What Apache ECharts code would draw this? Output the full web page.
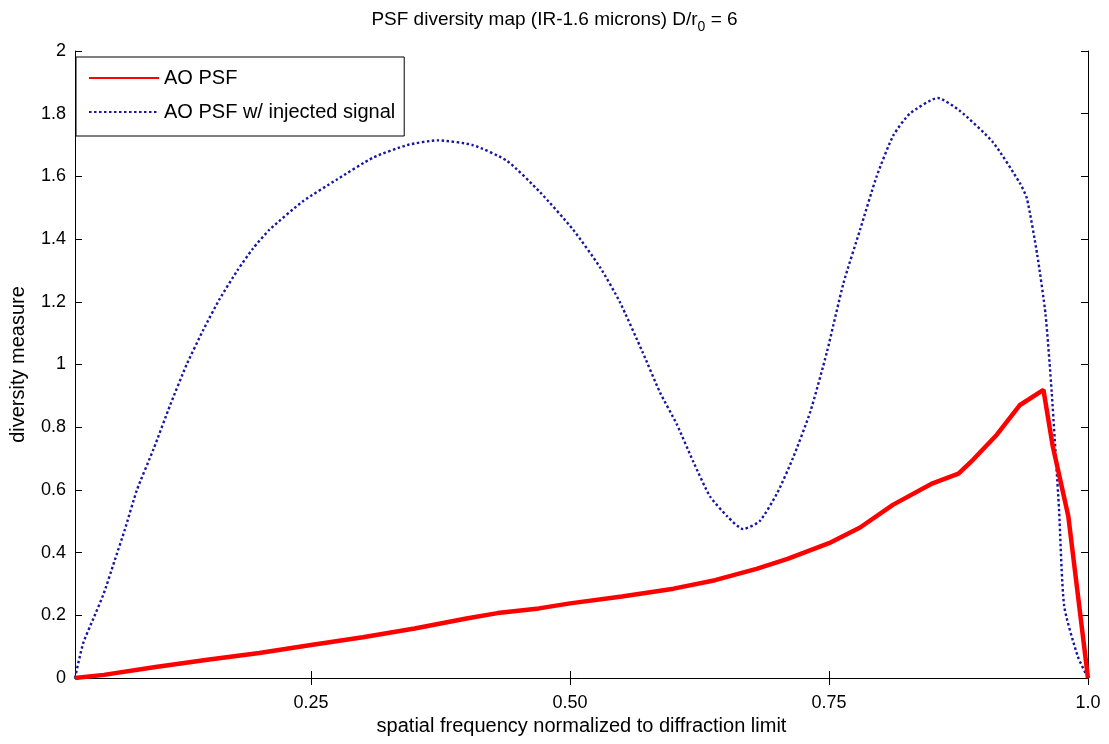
<!DOCTYPE html>
<html>
<head>
    <meta charset="utf-8">
    <title>PSF diversity map</title>
    <script src="https://cdn.jsdelivr.net/npm/echarts@6/dist/echarts.min.js"></script>
    <style>
        html, body { margin: 0; padding: 0; background: #fff; }
        #main { width: 1109px; height: 744px; }
    </style>
</head>
<body>
<div id="main"></div>
<script type="text/javascript">
    // values
    var aoFreq = [0.0222, 0.05, 0.1, 0.15, 0.2, 0.25, 0.3, 0.35, 0.4, 0.43, 0.47, 0.5, 0.55, 0.6, 0.64,
                  0.68, 0.71, 0.75, 0.78, 0.812, 0.85, 0.875, 0.889, 0.912, 0.934, 0.957, 0.966, 0.981, 1.0];
    var aoVals = [0, 0.01, 0.035, 0.058, 0.08, 0.105, 0.13, 0.158, 0.19, 0.207, 0.222, 0.238, 0.26, 0.285, 0.312,
                  0.348, 0.38, 0.43, 0.48, 0.553, 0.621, 0.652, 0.696, 0.776, 0.87, 0.919, 0.739, 0.516, 0];

    var injFreq = [0.0222, 0.03, 0.04, 0.05, 0.06, 0.07, 0.082, 0.098, 0.114, 0.13, 0.146, 0.162, 0.179, 0.194,
                   0.21, 0.242, 0.275, 0.31, 0.343, 0.372, 0.406, 0.439, 0.471, 0.503, 0.529, 0.548, 0.57, 0.587,
                   0.603, 0.619, 0.635, 0.652, 0.667, 0.683, 0.7, 0.715, 0.732, 0.748, 0.764, 0.78, 0.796, 0.812,
                   0.828, 0.855, 0.876, 0.908, 0.934, 0.941, 0.951, 0.959, 0.965, 0.972, 0.977, 0.99, 1.0];
    var injVals = [0, 0.11, 0.19, 0.27, 0.37, 0.47, 0.6, 0.73, 0.87, 1.0, 1.11, 1.21, 1.3, 1.37,
                   1.43, 1.52, 1.59, 1.66, 1.7, 1.715, 1.7, 1.65, 1.55, 1.43, 1.31, 1.2, 1.04, 0.91,
                   0.81, 0.69, 0.58, 0.515, 0.475, 0.5, 0.59, 0.7, 0.85, 1.04, 1.26, 1.43, 1.6, 1.73,
                   1.8, 1.85, 1.81, 1.71, 1.58, 1.53, 1.35, 1.16, 0.91, 0.54, 0.23, 0.07, 0];

    var xTickVals = [0.25, 0.5, 0.75, 1.0];
    var xTickLabels = ['0.25', '0.50', '0.75', '1.0'];

    var font = 'Liberation Sans, Arial, sans-serif';

    var myChart = echarts.init(document.getElementById('main'));

    var xBase = {
        min: 0.0222,
        max: 1.0,
        type: 'value',
        axisLine: { lineStyle: { color: '#000', width: 1 } },
        axisTick: { inside: true, length: 7, customValues: xTickVals, lineStyle: { color: '#000' } },
        splitLine: { show: false }
    };
    var yBase = {
        type: 'value',
        min: 0,
        max: 2,
        interval: 0.2,
        axisLine: { show: true, lineStyle: { color: '#000', width: 1 } },
        axisTick: { show: true, inside: true, length: 7, lineStyle: { color: '#000' } },
        splitLine: { show: false }
    };

    var option = {
        backgroundColor: '#fff',
        animation: false,
        title: {
            text: 'PSF diversity map (IR-1.6 microns) D/r{sub|0} = 6',
            left: 'center',
            top: 1,
            textStyle: {
                fontFamily: font, fontSize: 19, fontWeight: 'normal', color: '#000',
                rich: { sub: { fontFamily: font, fontSize: 14, padding: [14, 0, 0, 0], color: '#000' } }
            }
        },
        grid: { left: 75, right: 21, top: 51, bottom: 66 },
        legend: {
            orient: 'vertical',
            left: 76,
            top: 57,
            padding: [11, 9, 14, 12],
            itemGap: 14,
            itemWidth: 70,
            itemHeight: 14,
            backgroundColor: '#fff',
            borderColor: '#000',
            borderWidth: 1,
            itemStyle: { opacity: 0 },
            textStyle: { fontFamily: font, fontSize: 20, color: '#000' },
            data: ['AO PSF', 'AO PSF w/ injected signal']
        },
        xAxis: [
            Object.assign({}, xBase, {
                position: 'bottom',
                name: 'spatial frequency normalized to diffraction limit',
                nameLocation: 'middle',
                nameGap: 25,
                nameTextStyle: { fontFamily: font, fontSize: 20, color: '#000' },
                axisLabel: {
                    customValues: xTickVals,
                    margin: 16,
                    fontFamily: font, fontSize: 18, color: '#000',
                    formatter: function (v) {
                        var i = xTickVals.indexOf(v);
                        return i >= 0 ? xTickLabels[i] : '';
                    }
                }
            }),
            Object.assign({}, xBase, { position: 'top', axisLabel: { show: false } })
        ],
        yAxis: [
            Object.assign({}, yBase, {
                position: 'left',
                name: 'diversity measure',
                nameLocation: 'middle',
                nameGap: 47,
                nameTextStyle: { fontFamily: font, fontSize: 20, color: '#000' },
                axisLabel: { margin: 9, fontFamily: font, fontSize: 18, color: '#000' }
            }),
            Object.assign({}, yBase, { position: 'right', axisLabel: { show: false } })
        ],
        series: [
            {
                name: 'AO PSF',
                type: 'line',
                xAxisIndex: 0,
                yAxisIndex: 0,
                symbol: 'none',
                z: 3,
                lineStyle: { color: '#ff0000', width: 4.5 },
                itemStyle: { color: '#ff0000' },
                data: aoFreq.map(function (f, i) { return [f, aoVals[i]]; })
            },
            {
                name: 'AO PSF w/ injected signal',
                type: 'line',
                xAxisIndex: 0,
                yAxisIndex: 0,
                symbol: 'none',
                smooth: 0.2,
                z: 2,
                lineStyle: { color: '#1616a0', width: 2.4, type: [2.5, 2.5] },
                itemStyle: { color: '#1616a0' },
                data: injFreq.map(function (f, i) { return [f, injVals[i]]; })
            }
        ]
    };

    myChart.setOption(option);
</script>
</body>
</html>
